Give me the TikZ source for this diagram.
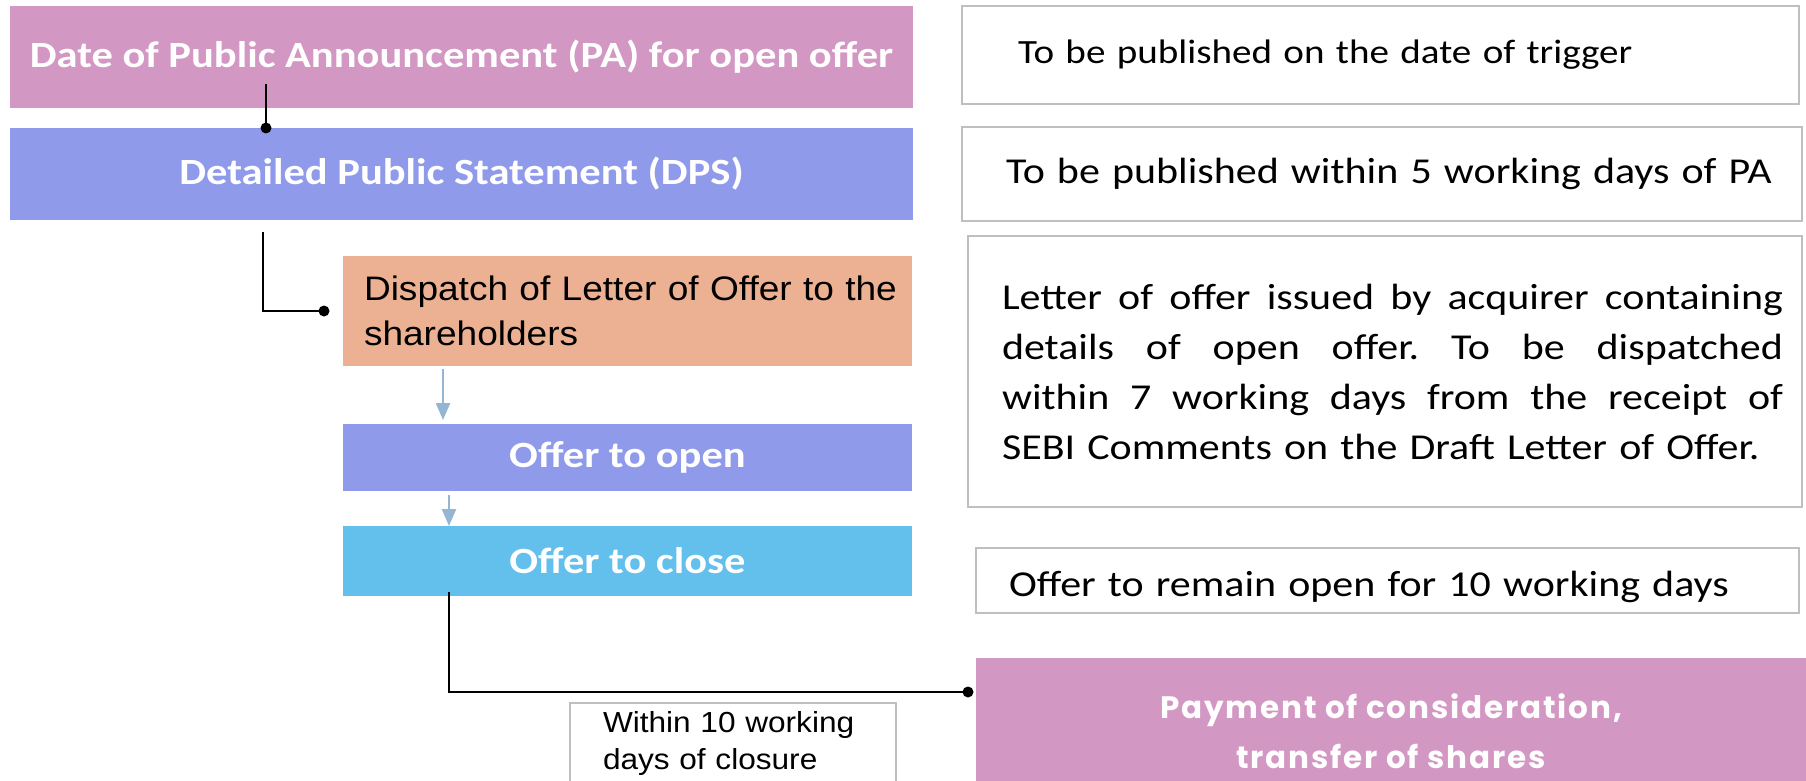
\documentclass[tikz,border=0pt]{standalone}
\usepackage{fontspec}
\setmainfont{Carlito}[FakeStretch=1.15]
\newfontfamily\arialf{Liberation Sans}[FakeStretch=1.09]
\newfontfamily\payf{Poppins}[LetterSpace=6]
\usetikzlibrary{arrows.meta}
\definecolor{papink}{RGB}{211,151,195}
\definecolor{peri}{RGB}{143,155,234}
\definecolor{peach}{RGB}{236,177,146}
\definecolor{skyb}{RGB}{99,191,236}
\definecolor{arrowblue}{RGB}{148,182,210}
\definecolor{boxgray}{RGB}{191,191,191}
\newcommand{\jline}[1]{\hspace*{34pt}\makebox[781pt][s]{\spaceskip=0pt\xspaceskip=0pt\frenchspacing #1}}
\begin{document}
\begin{tikzpicture}[x=1pt,y=-1pt,
  base/.style={anchor=north west, inner sep=0pt, outer sep=0pt},
  titlebox/.style={base, fill=#1, text=white, font=\bfseries\fontsize{37}{44}\selectfont, align=center},
  notebox/.style={base, draw=boxgray, line width=1.5pt, fill=white, align=left},
  conn/.style={line width=2.5pt, black},
  arr/.style={draw=arrowblue, line width=2.5pt, -{Triangle[length=17pt,width=14pt]}},
]
\path[use as bounding box, clip] (0,0) rectangle (1806,781);

% left column
\node[titlebox=papink, minimum width=903pt, minimum height=102pt] (pa) at (10,6) {Date of Public Announcement (PA) for open offer};
\node[titlebox=peri, minimum width=903pt, minimum height=92pt] (dps) at (10,128) {Detailed Public Statement (DPS)};
\node[titlebox=peach, text=black, font=\arialf\fontsize{34}{45}\selectfont, align=left, text width=569pt, minimum height=110pt] (disp) at (343,256) {\hspace*{21pt}Dispatch of Letter of Offer to the\\\hspace*{21pt}shareholders};
\node[titlebox=peri, minimum width=569pt, minimum height=67pt] (open) at (343,424) {Offer to open};
\node[titlebox=skyb, minimum width=569pt, minimum height=70pt] (close) at (343,526) {Offer to close};
\node[notebox, text width=326pt, minimum height=80pt, font=\arialf\fontsize{29}{37}\selectfont] (wb) at (570,703) {\hspace*{33pt}Within 10 working\\\hspace*{33pt}days of closure};

% right column
\node[notebox, text width=837pt, minimum height=98pt, font=\fontsize{34}{42}\selectfont] (n1) at (962,6) {\hspace*{56pt}To be published on the date of trigger};
\node[notebox, text width=840pt, minimum height=94pt, font=\fontsize{36.5}{44}\selectfont] (n2) at (962,127) {\hspace*{44pt}To be published within 5 working days of PA};
\node[notebox, text width=834pt, minimum height=271pt, font=\fontsize{36.5}{50}\selectfont] (n3) at (968,236) {\jline{Letter of offer issued by acquirer containing}\\
\jline{details of open offer. To be dispatched}\\
\jline{within 7 working days from the receipt of}\\
\hspace*{34pt}SEBI Comments on the Draft Letter of Offer.};
\node[notebox, text width=823pt, minimum height=65pt, font=\fontsize{36.5}{44}\selectfont] (n4) at (976,548) {\hspace*{33pt}\raisebox{-6pt}[\height][\depth]{Offer to remain open for 10 working days}};
\node[titlebox=papink, font=\payf\bfseries\fontsize{31}{50}\selectfont, minimum width=830pt, minimum height=147pt] (pay) at (976,658) {Payment of consideration,\\transfer of shares};

% connectors
\coordinate (c1s) at ([shift={(256,-24)}]pa.south west);
\coordinate (c1e) at ([shift={(256,0)}]dps.north west);
\draw[conn] (c1s) -- (c1e);
\fill (c1e) circle (5.5pt);

\coordinate (c2s) at ([shift={(253,12)}]dps.south west);
\coordinate (c2e) at ([shift={(-19,0)}]disp.west);
\draw[conn] (c2s) |- (c2e);
\fill (c2e) circle (5.5pt);

\coordinate (c3s) at ([shift={(106,-4)}]close.south west);
\coordinate (c3e) at ([shift={(-8,34)}]pay.north west);
\draw[conn] (c3s) |- (c3e);
\fill (c3e) circle (5.5pt);

\draw[arr] ([shift={(100,3)}]disp.south west) -- ([shift={(100,-4)}]open.north west);
\draw[arr] ([shift={(106,4)}]open.south west) -- ([shift={(106,0)}]close.north west);
\end{tikzpicture}
\end{document}
